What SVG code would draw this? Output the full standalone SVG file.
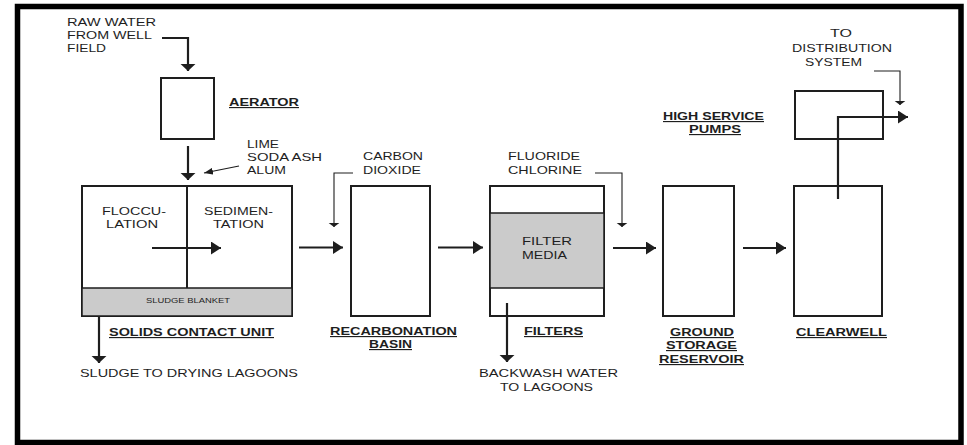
<svg xmlns="http://www.w3.org/2000/svg" width="967" height="445" viewBox="0 0 967 445">
<style>
.t{font-family:"Liberation Sans",Arial,sans-serif;font-size:10.8px;fill:#1e1e1e}
.b{font-family:"Liberation Sans",Arial,sans-serif;font-size:11.5px;font-weight:bold;fill:#1e1e1e;text-decoration:underline}
.s{font-family:"Liberation Sans",Arial,sans-serif;font-size:7.8px;fill:#1e1e1e}
.box{fill:#fff;stroke:#1e1e1e;stroke-width:2}
.grey{fill:#cbcbcb;stroke:#1e1e1e;stroke-width:1.5}
.thick{fill:none;stroke:#1e1e1e;stroke-width:2.2}
.thin{fill:none;stroke:#1e1e1e;stroke-width:1.1}
</style>
<defs>
<marker id="ah" markerUnits="userSpaceOnUse" markerWidth="10" markerHeight="13" refX="10" refY="6.5" orient="auto"><path d="M0,0 L10,6.5 L0,13 z" fill="#1e1e1e"/></marker>
<marker id="av" markerUnits="userSpaceOnUse" markerWidth="8" markerHeight="16" refX="7.5" refY="8" orient="auto"><path d="M0,0 L7.5,8 L0,16 z" fill="#1e1e1e"/></marker>
<marker id="tv" markerUnits="userSpaceOnUse" markerWidth="5" markerHeight="12" refX="4.5" refY="6" orient="auto"><path d="M0,0 L4.5,6 L0,12 z" fill="#1e1e1e"/></marker>
<marker id="td" markerUnits="userSpaceOnUse" markerWidth="9" markerHeight="7" refX="9" refY="3.5" orient="auto"><path d="M0,0 L9,3.5 L0,7 z" fill="#1e1e1e"/></marker>
</defs>
<rect x="0" y="0" width="967" height="445" fill="#fff"/>
<rect x="17.5" y="6.5" width="943.5" height="436" fill="none" stroke="#000" stroke-width="5.5"/>

<g id="raw-water">
<text class="t" x="67" y="26" textLength="89" lengthAdjust="spacingAndGlyphs">RAW WATER</text>
<text class="t" x="67" y="39" textLength="85" lengthAdjust="spacingAndGlyphs">FROM WELL</text>
<text class="t" x="67" y="52" textLength="39" lengthAdjust="spacingAndGlyphs">FIELD</text>
</g>
<g id="aerator">
<rect class="box" x="161" y="78" width="53" height="61"/>
<text class="b" x="229" y="106" textLength="70" lengthAdjust="spacingAndGlyphs">AERATOR</text>
</g>
<g id="chemicals">
<text class="t" x="247" y="148" textLength="32" lengthAdjust="spacingAndGlyphs">LIME</text>
<text class="t" x="247" y="161" textLength="75" lengthAdjust="spacingAndGlyphs">SODA ASH</text>
<text class="t" x="247" y="174" textLength="39" lengthAdjust="spacingAndGlyphs">ALUM</text>
</g>
<g id="solids-contact-unit">
<rect class="box" x="82" y="186" width="210" height="130"/>
<rect class="grey" x="82" y="288" width="210" height="28"/>
<line x1="187" y1="186" x2="187" y2="288" stroke="#1e1e1e" stroke-width="2"/>
<text class="t" x="102" y="215" textLength="64" lengthAdjust="spacingAndGlyphs">FLOCCU-</text>
<text class="t" x="106" y="228" textLength="52" lengthAdjust="spacingAndGlyphs">LATION</text>
<text class="t" x="204" y="215" textLength="69" lengthAdjust="spacingAndGlyphs">SEDIMEN-</text>
<text class="t" x="213" y="228" textLength="51" lengthAdjust="spacingAndGlyphs">TATION</text>
<text class="s" x="146" y="303" textLength="84" lengthAdjust="spacingAndGlyphs">SLUDGE BLANKET</text>
<text class="b" x="109" y="336" textLength="165" lengthAdjust="spacingAndGlyphs">SOLIDS CONTACT UNIT</text>
</g>
<g id="sludge-out">
<text class="t" x="80" y="377" textLength="218" lengthAdjust="spacingAndGlyphs">SLUDGE TO DRYING LAGOONS</text>
</g>
<g id="carbon-dioxide">
<text class="t" x="363" y="160" textLength="60" lengthAdjust="spacingAndGlyphs">CARBON</text>
<text class="t" x="363" y="174" textLength="58" lengthAdjust="spacingAndGlyphs">DIOXIDE</text>
</g>
<g id="recarbonation-basin">
<rect class="box" x="351" y="186" width="79" height="130"/>
<text class="b" x="330" y="335" textLength="127" lengthAdjust="spacingAndGlyphs">RECARBONATION</text>
<text class="b" x="369" y="348" textLength="43" lengthAdjust="spacingAndGlyphs">BASIN</text>
</g>
<g id="fluoride-chlorine">
<text class="t" x="508" y="160" textLength="72" lengthAdjust="spacingAndGlyphs">FLUORIDE</text>
<text class="t" x="508" y="174" textLength="74" lengthAdjust="spacingAndGlyphs">CHLORINE</text>
</g>
<g id="filters">
<rect class="box" x="490" y="186" width="114" height="130"/>
<rect class="grey" x="490" y="213" width="114" height="75"/>
<text class="t" x="522" y="245" textLength="50" lengthAdjust="spacingAndGlyphs">FILTER</text>
<text class="t" x="522" y="259" textLength="45" lengthAdjust="spacingAndGlyphs">MEDIA</text>
<text class="b" x="524" y="335" textLength="59" lengthAdjust="spacingAndGlyphs">FILTERS</text>
</g>
<g id="backwash-out">
<text class="t" x="479" y="377" textLength="139" lengthAdjust="spacingAndGlyphs">BACKWASH WATER</text>
<text class="t" x="500" y="391" textLength="93" lengthAdjust="spacingAndGlyphs">TO LAGOONS</text>
</g>
<g id="ground-storage-reservoir">
<rect class="box" x="663" y="186" width="71" height="130"/>
<text class="b" x="670" y="336" textLength="64" lengthAdjust="spacingAndGlyphs">GROUND</text>
<text class="b" x="666" y="349" textLength="71" lengthAdjust="spacingAndGlyphs">STORAGE</text>
<text class="b" x="659" y="363" textLength="85" lengthAdjust="spacingAndGlyphs">RESERVOIR</text>
</g>
<g id="high-service-pumps">
<rect class="box" x="795" y="91" width="88" height="48"/>
<text class="b" x="663" y="120" textLength="101" lengthAdjust="spacingAndGlyphs">HIGH SERVICE</text>
<text class="b" x="689" y="133" textLength="52" lengthAdjust="spacingAndGlyphs">PUMPS</text>
</g>
<g id="clearwell">
<rect class="box" x="794" y="186" width="88" height="130"/>
<text class="b" x="796" y="336" textLength="91" lengthAdjust="spacingAndGlyphs">CLEARWELL</text>
</g>
<g id="distribution">
<text class="t" x="830" y="37" textLength="22" lengthAdjust="spacingAndGlyphs">TO</text>
<text class="t" x="792" y="52" textLength="100" lengthAdjust="spacingAndGlyphs">DISTRIBUTION</text>
<text class="t" x="805" y="66" textLength="57" lengthAdjust="spacingAndGlyphs">SYSTEM</text>
</g>

<g id="connectors">
<polyline class="thick" points="162,38 188,38 188,71" marker-end="url(#av)"/>
<line class="thick" x1="188" y1="146" x2="188" y2="180" marker-end="url(#av)"/>
<line class="thin" x1="239" y1="166" x2="204" y2="173" marker-end="url(#td)"/>
<line class="thick" x1="152" y1="248" x2="221" y2="248" marker-end="url(#ah)"/>
<line class="thick" x1="99" y1="316" x2="99" y2="363" marker-end="url(#av)"/>
<line class="thick" x1="299" y1="247.5" x2="343" y2="247.5" marker-end="url(#ah)"/>
<polyline class="thin" points="353,173 334,173 334,227" marker-end="url(#tv)"/>
<line class="thick" x1="438" y1="247.5" x2="483" y2="247.5" marker-end="url(#ah)"/>
<polyline class="thin" points="595,173 622,173 622,227" marker-end="url(#tv)"/>
<line class="thick" x1="507" y1="303" x2="507" y2="362" marker-end="url(#av)"/>
<line class="thick" x1="613" y1="248" x2="656" y2="248" marker-end="url(#ah)"/>
<line class="thick" x1="743" y1="248" x2="786" y2="248" marker-end="url(#ah)"/>
<polyline class="thick" points="838,199 838,117 908,117" marker-end="url(#ah)"/>
<polyline class="thin" points="874,71 900,71 900,105" marker-end="url(#tv)"/>
</g>
</svg>
